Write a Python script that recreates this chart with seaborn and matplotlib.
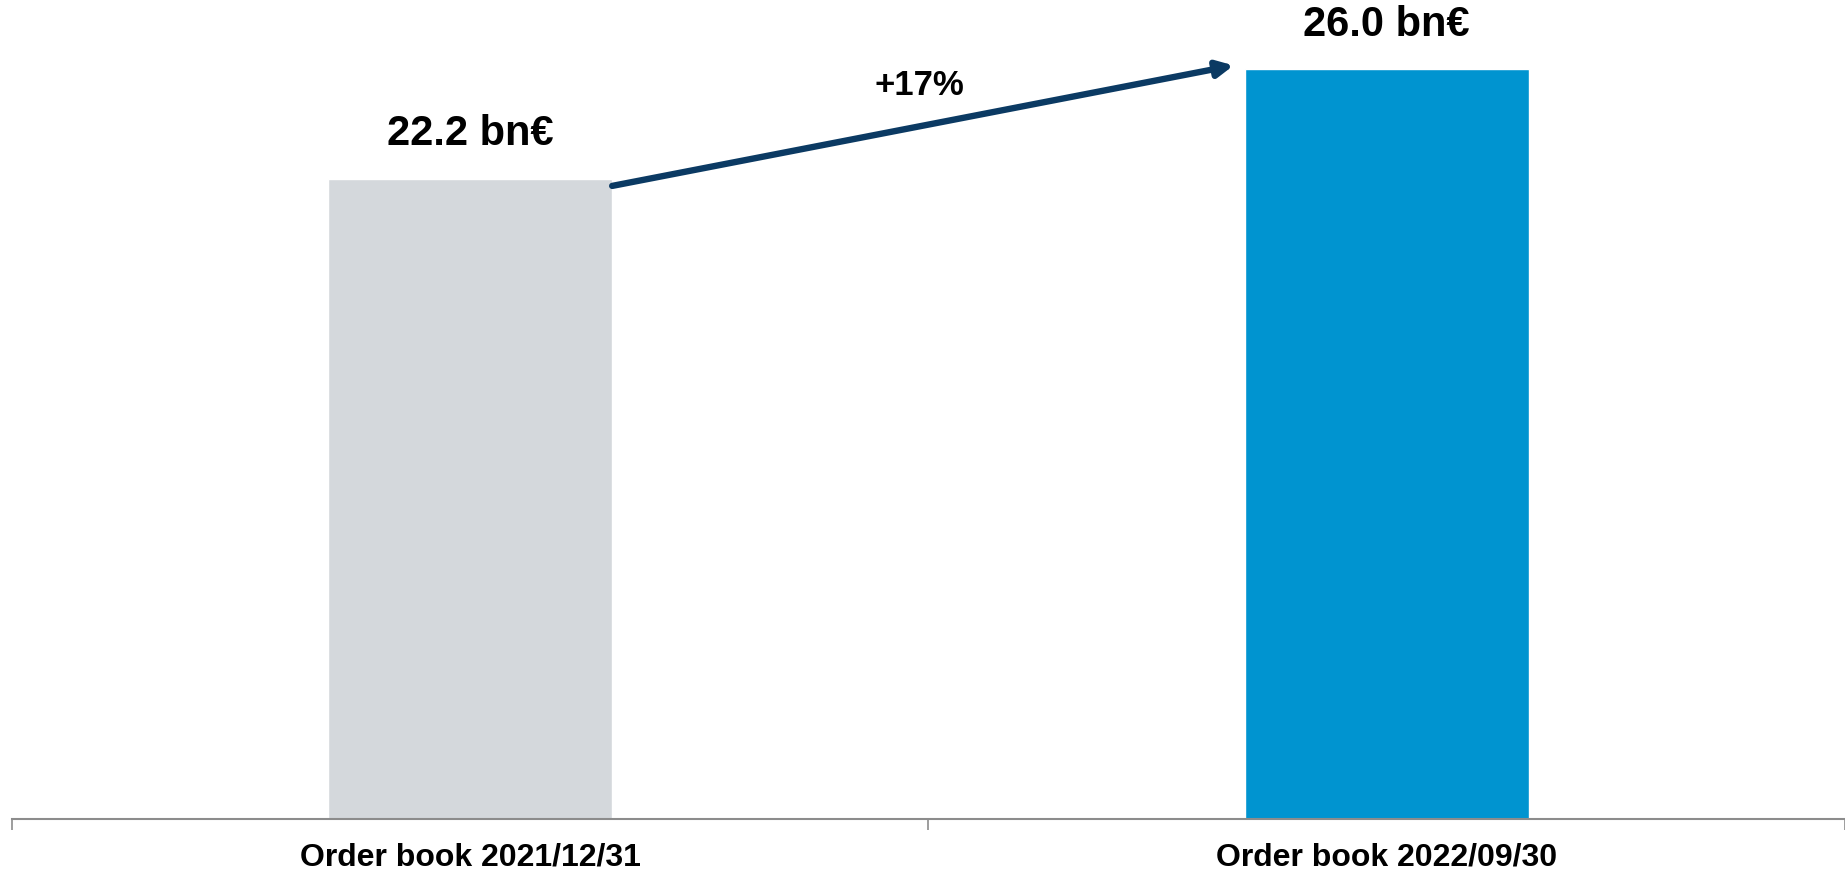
import matplotlib
matplotlib.use("Agg")
import matplotlib.pyplot as plt
import seaborn as sns
import pandas as pd

# Order book values (bn€)
categories = ["Order book 2021/12/31", "Order book 2022/09/30"]
values = [22.2, 26.0]
value_labels = ["22.2 bn€", "26.0 bn€"]
growth_label = "+17%"
bar_colors = ["#d4d8dc", "#0094d0"]

sns.set_theme(style="white")
plt.rcParams["font.family"] = ["Liberation Sans Narrow", "Liberation Sans", "DejaVu Sans"]

df = pd.DataFrame({"category": categories, "value": values})

fig = plt.figure(figsize=(18.45, 8.75), dpi=100)
ax = fig.add_axes([0.0064, 0.0645, 0.9936, 0.9355])

sns.barplot(data=df, x="category", y="value", hue="category",
            palette=bar_colors, width=0.31, legend=False, ax=ax, saturation=1)

ax.set_xlim(-0.5, 1.5)
ax.set_ylim(0, 28.4)

# value labels above bars
for i, (v, lab) in enumerate(zip(values, value_labels)):
    ax.text(i, v + 0.85, lab, ha="center", va="bottom",
            fontsize=30, fontweight="bold", color="black")

# growth arrow from top of first bar to second bar
half = 0.31 / 2
ax.annotate("", xy=(1 - half - 0.012, values[1] + 0.13),
            xytext=(half, values[0] - 0.25),
            arrowprops=dict(arrowstyle="-|>,head_length=0.8,head_width=0.4",
                            color="#0b3a63", lw=4.6, shrinkA=0, shrinkB=0))
ax.text(0.49, 25.45, growth_label, ha="center", va="center",
        fontsize=25, fontweight="bold", color="black")

# axes styling
for s in ["top", "right", "left"]:
    ax.spines[s].set_visible(False)
ax.spines["bottom"].set_color("#8c8c8c")
ax.spines["bottom"].set_linewidth(1.5)
ax.set_yticks([])
ax.set_xlabel("")
ax.set_ylabel("")
ax.set_xticks([0, 1])
ax.set_xticklabels(categories, fontsize=23, fontweight="bold", color="black")
ax.tick_params(axis="x", which="major", length=0, pad=17)
ax.set_xticks([-0.5, 0.5, 1.5], minor=True)
ax.tick_params(axis="x", which="minor", length=8, width=1.2, color="#8c8c8c",
               direction="out", bottom=True)

fig.savefig("out.png", dpi=100, facecolor="white")
